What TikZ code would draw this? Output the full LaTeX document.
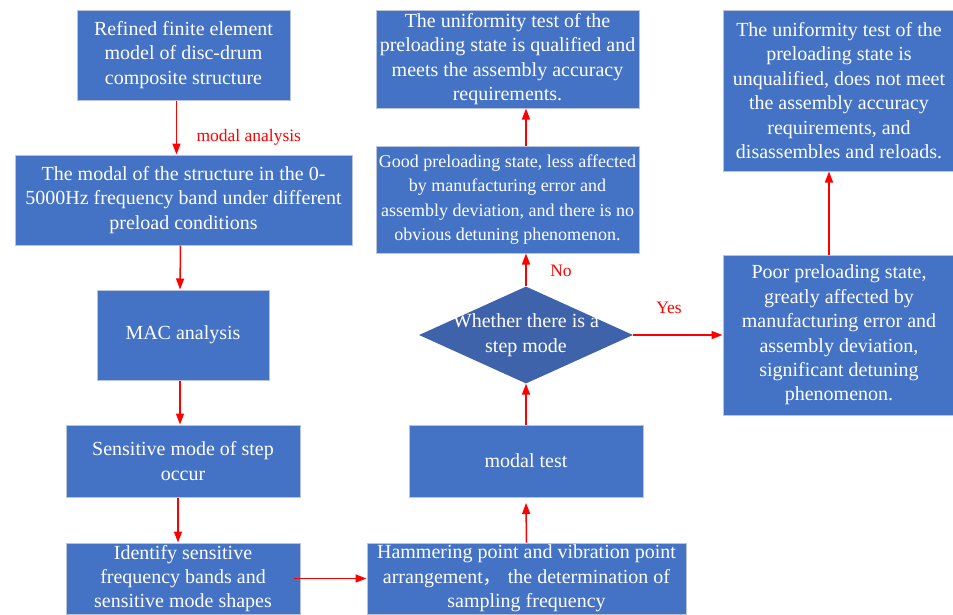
\documentclass[tikz,border=0pt]{standalone}
\usepackage{fontspec}
\setmainfont{Liberation Serif}
\newfontfamily\cjk{Noto Sans CJK SC}
\usepackage{xcolor}
\usetikzlibrary{shapes.geometric,arrows.meta}

\definecolor{boxblue}{HTML}{4472C4}
\definecolor{diablue}{HTML}{3F63AB}
\definecolor{edgegray}{HTML}{B9C4DA}

\tikzset{
  stage/.style={draw=edgegray, line width=1pt, fill=boxblue, text=white,
    align=center, inner sep=0pt, font=\fontsize{20}{24.4}\selectfont},
  flow/.style={red, line width=1.5pt, -{Triangle[length=11pt,width=8pt]}},
  note/.style={red, font=\fontsize{17.5}{20}\selectfont}
}

\begin{document}
\begin{tikzpicture}[x=1pt,y=-1pt]
\useasboundingbox (0,0) rectangle (953,614);

% left column
\node[stage, minimum width=213, minimum height=90] (fem) at (183.5,55)
  {Refined finite element\\model of disc-drum\\composite structure};
\node[stage, minimum width=337, minimum height=90] (modal) at (183.5,200)
  {The modal of the structure in the 0-\\5000Hz frequency band under different\\preload conditions};
\node[stage, minimum width=172, minimum height=90] (mac) at (183,335) {MAC analysis};
\node[stage, minimum width=234, minimum height=72] (sens) at (183,461)
  {Sensitive mode of step\\occur};
\node[stage, minimum width=234, minimum height=71] (ident) at (183,578.5)
  {Identify sensitive\\frequency bands and\\sensitive mode shapes};

% middle column
\node[stage, minimum width=319, minimum height=71] (hammer) at (526.5,578.5)
  {Hammering point and vibration point\\arrangement{\cjk ，}\ the determination of\\sampling frequency};
\node[stage, minimum width=234, minimum height=72] (test) at (526,461) {modal test};
\node[diamond, fill=diablue, inner sep=0pt, minimum width=214, minimum height=97] (step) at (526,335) {};
\node[text=white, align=center, font=\fontsize{20}{24.4}\selectfont] (steptext) at (526,335)
  {Whether there is a\\step mode};
\node[stage, minimum width=263, minimum height=107, font=\fontsize{18}{24.4}\selectfont] (good) at (507.5,199.5)
  {Good preloading state, less affected\\by manufacturing error and\\assembly deviation, and there is no\\obvious detuning phenomenon.};
\node[stage, minimum width=263, minimum height=98] (pass) at (507.5,59)
  {The uniformity test of the\\preloading state is qualified and\\meets the assembly accuracy\\requirements.};

% right column
\node[stage, minimum width=232, minimum height=160] (poor) at (839,335)
  {Poor preloading state,\\greatly affected by\\manufacturing error and\\assembly deviation,\\significant detuning\\phenomenon.};
\node[stage, minimum width=232, minimum height=161] (fail) at (839,90.5)
  {The uniformity test of the\\preloading state is\\unqualified, does not meet\\the assembly accuracy\\requirements, and\\disassembles and reloads.};

% arrows
\draw[flow] ([xshift=-7]fem.south) -- ([xshift=-7]modal.north);
\draw[flow] ([xshift=-3]modal.south) -- ([xshift=-3]mac.north);
\draw[flow] ([xshift=-3]mac.south) -- ([xshift=-3]sens.north);
\draw[flow] ([xshift=-5]sens.south) -- ([xshift=-5]ident.north);
\draw[flow] ([xshift=-7]ident.east) -- (hammer.west);
\draw[flow] (hammer.north) -- (test.north |- 0,503);
\draw[flow] (test.north) -- (step.south);
\draw[flow] (step.north) -- (good.south -| step.north);
\draw[flow] (good.north -| step.north) -- (pass.south -| step.north);
\draw[flow] (step.east) -- (poor.west);
\draw[flow] ([xshift=-10]poor.north) -- ([xshift=-10]fail.south);

% labels
\node[note, anchor=west] (lblmodal) at (193,137) {modal analysis};
\node[note] (lblno) at (561,271) {No};
\node[note] (lblyes) at (669,308) {Yes};

\end{tikzpicture}
\end{document}
